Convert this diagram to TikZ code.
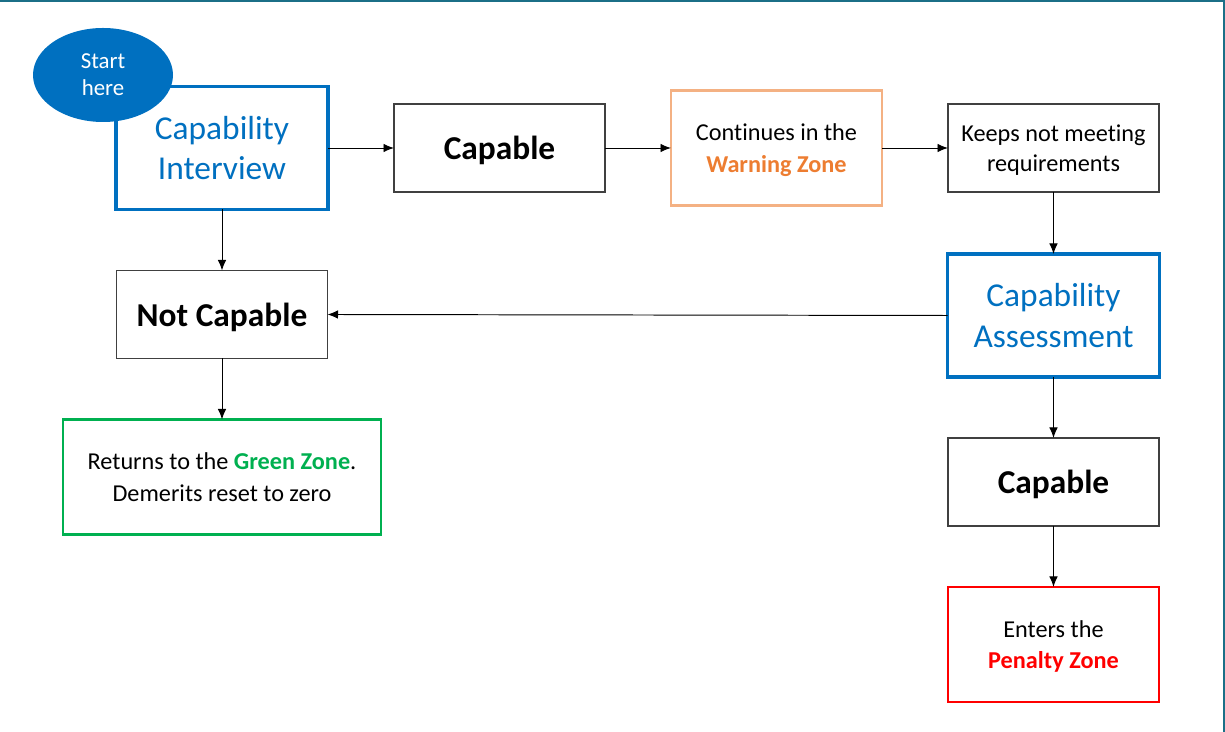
\documentclass[tikz,border=0pt]{standalone}
\usepackage{fontspec}
\setmainfont{Carlito}[Ligatures=NoCommon]
\usetikzlibrary{arrows.meta,
shapes.geometric,
positioning}
\definecolor{capblue}{HTML}{0070C0}
\definecolor{warnorange}{HTML}{ED7D31}
\definecolor{warnline}{HTML}{F4B183}
\definecolor{zonegreen}{HTML}{00B050}
\definecolor{zonered}{HTML}{FF0000}
\definecolor{frameteal}{HTML}{1B6F87}

\begin{document}
\begin{tikzpicture} [
    -{Latex[length=2.1mm,width=1.7mm]},
    line width = .55pt,
    main node/.style={rectangle, fill = white, draw = black!75, line width = .8pt,
        align=center, minimum width = 4.22cm, minimum height = 1.76cm,
        inner sep = 1mm, outer sep = 0pt},
    big node/.style={main node, draw = capblue, line width = 2.2pt,
        minimum height = 2.46cm, text = capblue, font=\fontsize{19}{23}\selectfont},
    zone node/.style={main node, line width = 1.3pt, minimum height = 2.3cm,
        text depth = 0pt, font=\fontsize{13.8}{17.8}\selectfont},
    bold node/.style={main node, text depth = 0pt,
        font=\fontsize{19}{23}\selectfont\bfseries},
    small node/.style={main node, text depth = 0pt,
        font=\fontsize{13.8}{17.4}\selectfont}
  ]

  % page and frame
  \useasboundingbox (0, 0) rectangle (24.5, 14.64);
  \draw [frameteal, line width = 1.2pt, -] (0, 14.62) -- (24.48, 14.62) -- (24.48, 0);

  \node [big node, minimum width = 4.24cm] (ci) at (4.44, 11.68) {Capability\\Interview};

  \node [bold node,
    right = 1.32cm of ci
  ] (capa) {Capable};

  \draw (ci.east) -- (capa.west);

  \node [zone node,
    draw = warnline,
    right = 1.32cm of capa
  ] (warn) {Continues in the\\\textcolor{warnorange}{\bfseries Warning Zone}};

  \draw (capa.east) -- (warn.west);

  \node [small node,
    right = 1.32cm of warn
  ] (keep) {Keeps not meeting\\requirements};

  \draw (warn.east) -- (keep.west);

  \node [big node,
    minimum width = 4.24cm,
    below = 1.24cm of keep
  ] (ca) {Capability\\Assessment};

  \draw (keep.south) -- (ca.north);

  \node [bold node,
    below = 1.22cm of ca
  ] (capb) {Capable};

  \draw (ca.south) -- (capb.north);

  \node [zone node,
    draw = zonered,
    below = 1.22cm of capb
  ] (pen) {Enters the\\\textcolor{zonered}{\bfseries Penalty Zone}};

  \draw (capb.south) -- (pen.north);

  \node [bold node,
    below = 1.22cm of ci
  ] (nc) {Not Capable};

  \draw (ci.south) -- (nc.north);
  \draw (ca.west) -- (nc.east);

  \node [zone node,
    draw = zonegreen,
    minimum width = 6.36cm,
    below = 1.22cm of nc
  ] (green) {Returns to the \textcolor{zonegreen}{\bfseries Green Zone}.\\Demerits reset to zero};

  \draw (nc.south) -- (green.north);

  % start marker on top of the interview box
  \node [ellipse,
    fill = capblue,
    text = white,
    minimum width = 2.8cm,
    minimum height = 1.88cm,
    inner sep = 0pt,
    align = center,
    font = \fontsize{13}{15.5}\selectfont
  ] (start) at (2.06, 13.14) {Start\\here};

\end{tikzpicture}
\end{document}
